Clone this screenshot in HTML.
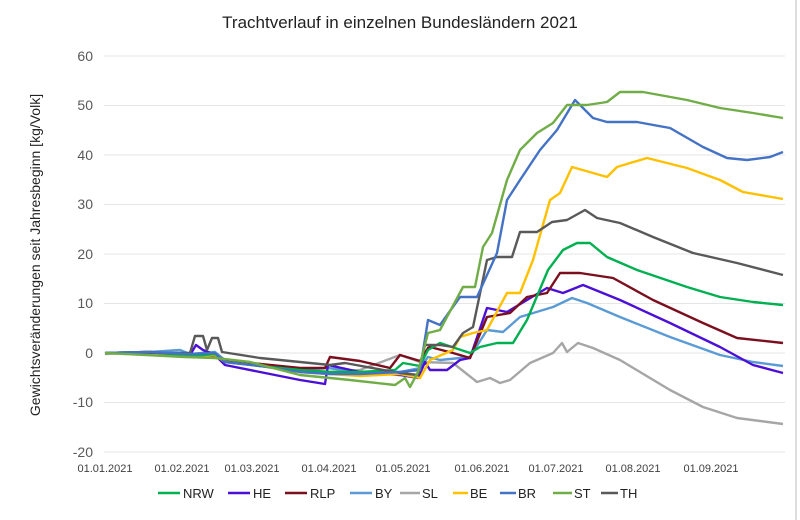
<!DOCTYPE html>
<html><head><meta charset="utf-8"><style>
body{margin:0;background:#fff;}
svg{display:block;font-family:"Liberation Sans",sans-serif;}
</style></head><body>
<svg width="800" height="520" viewBox="0 0 800 520">
<rect width="800" height="520" fill="#fff"/>
<line x1="796" y1="0" x2="796" y2="520" stroke="#ddd" stroke-width="2"/>
<text x="400" y="28" font-size="17" text-anchor="middle" fill="#222">Trachtverlauf in einzelnen Bundesländern 2021</text>
<g stroke="#e6e6e6" stroke-width="1">
<line x1="104" x2="785" y1="56" y2="56"/><line x1="104" x2="785" y1="105.5" y2="105.5"/>
<line x1="104" x2="785" y1="155" y2="155"/><line x1="104" x2="785" y1="204.5" y2="204.5"/>
<line x1="104" x2="785" y1="254" y2="254"/><line x1="104" x2="785" y1="303.5" y2="303.5"/>
<line x1="104" x2="785" y1="353" y2="353"/><line x1="104" x2="785" y1="402.5" y2="402.5"/>
<line x1="104" x2="785" y1="452" y2="452"/>
</g>
<g font-size="14" fill="#595959" text-anchor="end">
<text x="93" y="61">60</text><text x="93" y="110">50</text><text x="93" y="160">40</text>
<text x="93" y="209">30</text><text x="93" y="259">20</text><text x="93" y="308">10</text>
<text x="93" y="358">0</text><text x="93" y="407">-10</text><text x="93" y="457">-20</text>
</g>
<g font-size="11" fill="#404040" text-anchor="middle">
<text x="105" y="472">01.01.2021</text><text x="182" y="472">01.02.2021</text>
<text x="252" y="472">01.03.2021</text><text x="329" y="472">01.04.2021</text>
<text x="403" y="472">01.05.2021</text><text x="482" y="472">01.06.2021</text>
<text x="556" y="472">01.07.2021</text><text x="633" y="472">01.08.2021</text>
<text x="711" y="472">01.09.2021</text>
</g>
<text transform="translate(40,255) rotate(-90)" font-size="14" text-anchor="middle" fill="#222">Gewichtsveränderungen seit Jahresbeginn [kg/Volk]</text>
<g fill="none" stroke-width="2.4" stroke-linejoin="round">
<polyline stroke="#A6A6A6" points="105,354 150,352 190,354 215,356 225,362 260,364 300,370 330,372 360,370 400,355 420,362 453,363 477,382 490,378 500,383 510,380 530,363 553,353 562,343 567,352 578,343 593,348 620,360 670,390 703,407 737,418 783,424"/>
<polyline stroke="#5B9BD5" points="105,353 150,352 180,350 190,354 215,352 225,360 260,364 300,370 328,368 360,372 400,372 420,368 428,357 440,360 470,357 487,330 503,332 520,317 553,307 572,298 587,303 620,317 670,337 720,355 753,362 783,366"/>
<polyline stroke="#4B0FD6" points="105,353 150,352 190,355 196,345 203,350 215,355 225,365 260,372 300,380 325,384 328,365 360,372 400,375 418,378 425,362 430,370 447,370 460,360 470,358 487,308 507,312 527,300 547,288 563,293 583,285 620,300 670,323 720,347 753,365 783,373"/>
<polyline stroke="#7B0F1E" points="105,353 150,352 190,356 215,356 225,360 260,364 300,368 325,368 330,357 360,361 390,368 400,355 420,361 428,348 430,347 453,353 470,358 487,317 510,313 527,297 547,293 560,273 580,273 613,278 653,300 703,323 737,338 783,343"/>
<polyline stroke="#FFC000" points="105,353 150,352 190,356 215,355 225,362 260,366 300,372 330,374 360,376 400,374 420,378 430,360 453,350 460,337 473,333 487,330 507,293 520,293 533,260 550,200 560,193 572,167 593,173 607,177 617,167 647,158 687,168 720,180 743,192 783,199"/>
<polyline stroke="#00B050" points="105,353 150,352 190,356 215,354 225,362 260,366 300,370 330,372 360,372 395,370 403,363 420,366 428,350 440,343 470,353 480,347 497,343 513,343 527,320 548,270 563,250 577,243 590,243 607,257 637,270 687,287 720,297 753,302 783,305"/>
<polyline stroke="#595959" points="105,353 190,353 195,336 203,336 207,350 212,338 218,338 222,352 260,358 330,365 345,363 400,373 418,375 425,345 440,345 453,347 463,333 473,327 487,260 497,257 512,257 520,232 537,232 552,222 567,220 585,210 597,218 620,223 653,237 693,253 737,263 783,275"/>
<polyline stroke="#4472C4" points="105,353 150,352 190,354 215,353 225,362 260,366 300,372 330,374 360,374 400,372 420,370 428,320 440,325 460,297 477,297 497,253 507,200 520,180 540,150 557,130 575,100 593,118 607,122 637,122 670,128 703,147 727,158 747,160 770,157 783,152"/>
<polyline stroke="#70AD47" points="105,353 185,357 215,358 250,362 300,375 350,380 395,385 405,378 410,387 418,372 428,333 440,330 463,287 475,287 483,247 492,233 507,180 520,150 537,133 553,123 567,105 587,105 607,102 620,92 643,92 687,100 720,108 753,113 783,118"/>
</g>
<g stroke-width="2.5" font-size="13" fill="#222">
<line x1="158" x2="180" y1="493" y2="493" stroke="#00B050"/><text x="183" y="498">NRW</text>
<line x1="228" x2="250" y1="493" y2="493" stroke="#4B0FD6"/><text x="253" y="498">HE</text>
<line x1="285" x2="307" y1="493" y2="493" stroke="#7B0F1E"/><text x="310" y="498">RLP</text>
<line x1="350" x2="372" y1="493" y2="493" stroke="#5B9BD5"/><text x="375" y="498">BY</text>
<line x1="400" x2="420" y1="493" y2="493" stroke="#A6A6A6"/><text x="422" y="498">SL</text>
<line x1="453" x2="468" y1="493" y2="493" stroke="#FFC000"/><text x="470" y="498">BE</text>
<line x1="500" x2="516" y1="493" y2="493" stroke="#4472C4"/><text x="518" y="498">BR</text>
<line x1="553" x2="572" y1="493" y2="493" stroke="#70AD47"/><text x="574" y="498">ST</text>
<line x1="601" x2="618" y1="493" y2="493" stroke="#595959"/><text x="620" y="498">TH</text>
</g>
</svg>
</body></html>
